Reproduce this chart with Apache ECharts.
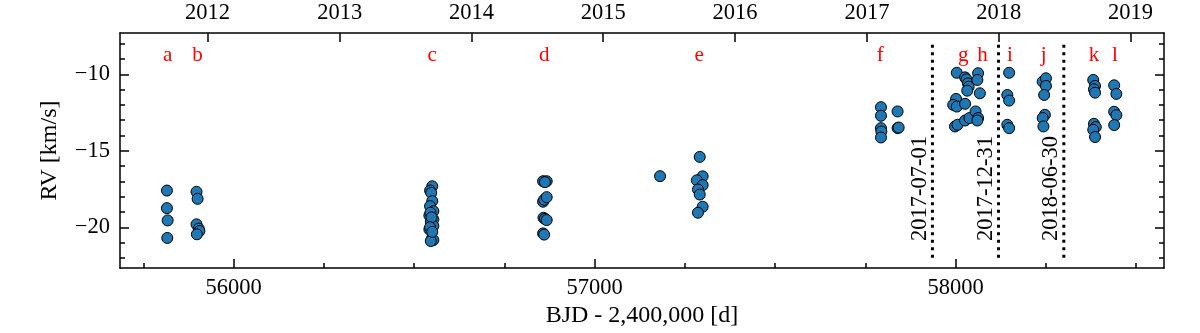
<!DOCTYPE html>
<html>
<head>
<meta charset="utf-8">
<script src="https://cdn.jsdelivr.net/npm/echarts@6/dist/echarts.min.js"></script>
<style>html,body{margin:0;padding:0;background:#fff}#c{width:1200px;height:333px}</style>
</head>
<body>
<div id="c"></div>
<script>
// Observations: BJD - 2,400,000 and RV (km/s)
const bjd = [
  55815,55815,55817,55816,
  55897,55900,55897,55903,55905,55898,
  56550,56544,56547,56550,56544,56553,56542,56553,56546,56553,56542,56549,56553,56546,56545,56548,56544,56550,
  56857,56867,56862,56857,56860,56867,56858,56862,56867,56857,56860,
  57181,
  57291,57299,57283,57299,57286,57291,57299,57286,
  57793,57793,57793,57794,57793,57839,57839,57842,
  58003,58026,58030,58034,58036,58032,58001,57993,58003,58026,57998,58005,58026,58038,
  58062,58060,58067,58055,58062,58060,
  58148,58143,58148,58143,58148,
  58241,58250,58250,58245,58247,58241,58243,
  58381,58386,58383,58386,58383,58388,58381,58386,
  58439,58445,58439,58445,58439
];
const rv = [
  -17.60,-18.75,-19.55,-20.70,
  -17.68,-18.14,-19.81,-20.09,-20.25,-20.46,
  -17.32,-17.60,-17.75,-18.29,-18.62,-18.95,-19.23,-19.49,-19.66,-19.92,-20.14,-20.75,-20.84,-20.90,-19.05,-19.35,-20.00,-20.30,
  -16.99,-16.99,-17.05,-18.33,-18.20,-18.03,-19.38,-19.45,-19.53,-20.40,-20.48,
  -16.66,
  -15.40,-16.67,-16.93,-17.25,-17.53,-17.86,-18.66,-19.05,
  -12.15,-12.71,-13.52,-13.74,-14.13,-12.43,-13.52,-13.48,
  -9.90,-10.20,-10.33,-10.59,-10.81,-11.07,-11.61,-12.00,-12.11,-11.93,-13.41,-13.30,-13.02,-12.86,
  -9.93,-10.37,-11.24,-12.43,-12.86,-13.02,
  -9.90,-11.35,-11.72,-13.30,-13.52,
  -10.48,-10.26,-10.76,-11.35,-12.65,-12.86,-13.41,
  -10.37,-10.76,-10.98,-11.20,-13.24,-13.45,-13.63,-14.10,
  -10.72,-11.28,-12.45,-12.67,-13.32
];
// Epoch labels
const epochNames = ['a','b','c','d','e','f','g','h','i','j','k','l'];
const epochBjd = [55817,55900,56550,56860,57289,57791,58021,58074,58150,58244,58383,58441];
// Date separators
const dateNames = ['2017-07-01','2017-12-31','2018-06-30'];
const dateBjd = [57935.5,58118.5,58299.5];
// Top axis years (BJD of Jan 1)
const yearNames = ['2012','2013','2014','2015','2016','2017','2018','2019'];
const yearBjd = [55927.5,56293.5,56658.5,57023.5,57388.5,57754.5,58119.5,58484.5];
// Tick values
const xMajor = [56000,57000,58000];
const xMinor = [55750,56250,56500,56750,57250,57500,57750,58250,58500];
const yMajor = [-20,-15,-10];
const yMinor = [-22,-21,-19,-18,-17,-16,-14,-13,-12,-11,-9,-8];

const FONT = 'Liberation Serif';
const FS = 22.5;
const X_MIN = 55685, X_MAX = 58577, Y_MIN = -22.67, Y_MAX = -7.3;
const lineStyle = {color:'#000', width:1.5};

function xAx(extra){
  return Object.assign({type:'value', min:X_MIN, max:X_MAX, splitLine:{show:false},
    axisLine:{show:false}, axisTick:{show:false}, axisLabel:{show:false}}, extra);
}
function yAx(extra){
  return Object.assign({type:'value', min:Y_MIN, max:Y_MAX, splitLine:{show:false},
    axisLine:{show:false}, axisTick:{show:false}, axisLabel:{show:false}}, extra);
}

const series = [];
series.push({
  type:'scatter', xAxisIndex:0, yAxisIndex:0, z:5,
  data: bjd.map((x,i)=>[x, rv[i]]),
  symbol:'circle', symbolSize:11,
  itemStyle:{color:'#1f77b4', borderColor:'#000', borderWidth:1, opacity:1},
  emphasis:{disabled:true}, silent:true
});
series.push({
  type:'scatter', xAxisIndex:0, yAxisIndex:0, z:6, symbolSize:0,
  itemStyle:{opacity:1},
  data: epochBjd.map((x,i)=>({value:[x,-8.75], name:epochNames[i]})),
  label:{show:true, position:'inside', formatter:p=>p.name, color:'#ff0000',
    textBorderWidth:0, fontFamily:FONT, fontSize:21},
  silent:true
});
dateBjd.forEach((x,i)=>{
  series.push({
    type:'line', xAxisIndex:0, yAxisIndex:0, z:3, symbol:'none',
    data:[[x,-22],[x,-8]],
    lineStyle:{color:'#000', width:3, type:[3,4.5]}, silent:true
  });
  series.push({
    type:'scatter', xAxisIndex:0, yAxisIndex:0, z:4, symbolSize:0,
    itemStyle:{opacity:1},
    data:[{value:[x,-20.9], name:dateNames[i]}],
    label:{show:true, position:'inside', rotate:90, align:'left', verticalAlign:'bottom',
      offset:[0,-1], formatter:p=>p.name, color:'#000', textBorderWidth:0,
      fontFamily:FONT, fontSize:FS},
    silent:true
  });
});

const option = {
  animation:false,
  backgroundColor:'#fff',
  textStyle:{fontFamily:FONT},
  grid:{left:120, right:36, top:33, bottom:64, containLabel:false},
  xAxis:[
    xAx({position:'bottom', axisLine:{show:true, lineStyle:lineStyle},
      axisTick:{show:true, inside:true, length:9, lineStyle:lineStyle, customValues:xMajor},
      axisLabel:{show:true, margin:8, color:'#000', fontFamily:FONT, fontSize:FS,
        customValues:xMajor, formatter:v=>String(v)},
      name:'BJD - 2,400,000 [d]', nameLocation:'middle', nameGap:35,
      nameTextStyle:{color:'#000', fontFamily:FONT, fontSize:24}}),
    xAx({position:'bottom',
      axisTick:{show:true, inside:true, length:5, lineStyle:lineStyle, customValues:xMinor}}),
    xAx({position:'top', axisLine:{show:true, lineStyle:lineStyle},
      axisTick:{show:true, inside:true, length:9, lineStyle:lineStyle, customValues:yearBjd},
      axisLabel:{show:true, margin:8, color:'#000', fontFamily:FONT, fontSize:FS,
        customValues:yearBjd, formatter:v=>{const k=yearBjd.indexOf(v); return k>=0?yearNames[k]:'';}}})
  ],
  yAxis:[
    yAx({position:'left', axisLine:{show:true, lineStyle:lineStyle},
      axisTick:{show:true, inside:true, length:9, lineStyle:lineStyle, customValues:yMajor},
      axisLabel:{show:true, margin:10, color:'#000', fontFamily:FONT, fontSize:FS,
        customValues:yMajor, formatter:v=>(v<0?'\u2212':'')+Math.abs(v)},
      name:'RV [km/s]', nameLocation:'middle', nameGap:58,
      nameTextStyle:{color:'#000', fontFamily:FONT, fontSize:24}}),
    yAx({position:'left',
      axisTick:{show:true, inside:true, length:5, lineStyle:lineStyle, customValues:yMinor}}),
    yAx({position:'right', axisLine:{show:true, lineStyle:lineStyle},
      axisTick:{show:true, inside:true, length:9, lineStyle:lineStyle, customValues:yMajor}}),
    yAx({position:'right',
      axisTick:{show:true, inside:true, length:5, lineStyle:lineStyle, customValues:yMinor}})
  ],
  series:series
};
const chart = echarts.init(document.getElementById('c'), null, {renderer:'canvas'});
chart.setOption(option);
</script>
</body>
</html>
